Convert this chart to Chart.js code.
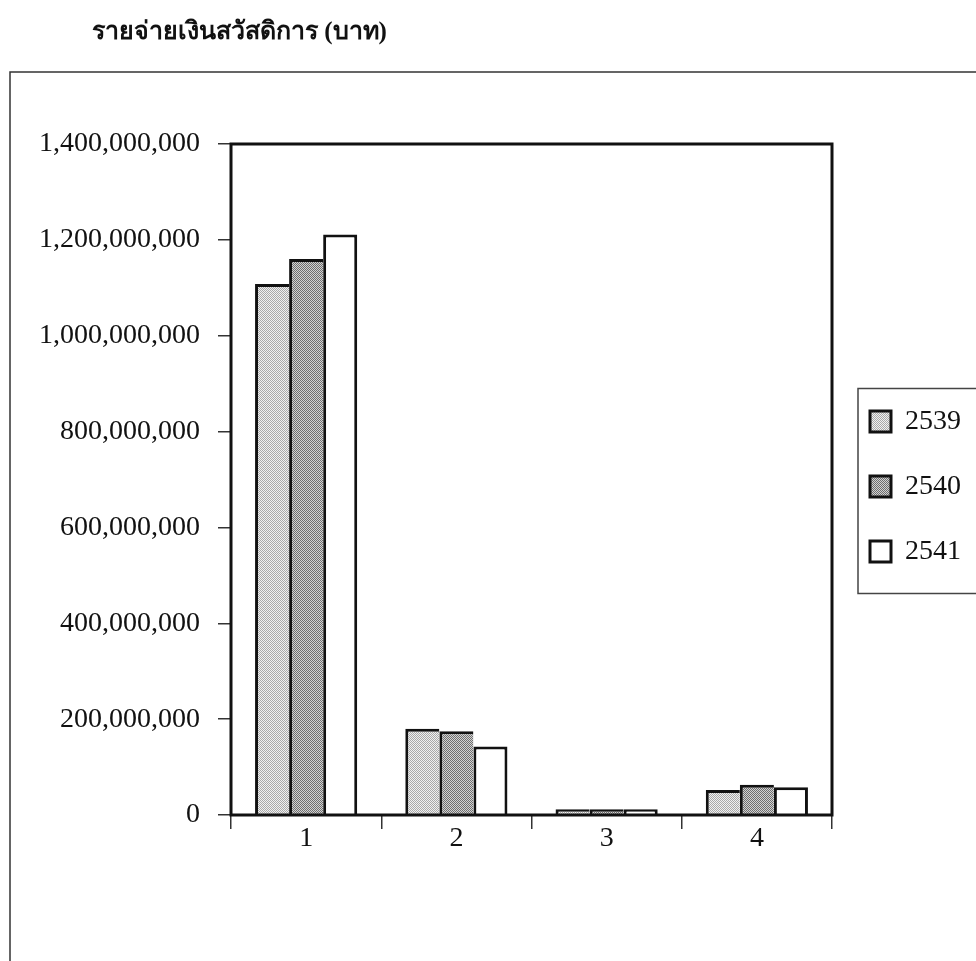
<!DOCTYPE html>
<html>
<head>
<meta charset="utf-8">
<script src="https://cdn.jsdelivr.net/npm/chart.js@4.4.1/dist/chart.umd.min.js"></script>
<style>
  html, body { margin: 0; padding: 0; background: #fff; overflow: hidden; }
  #wrap { position: relative; width: 976px; height: 961px; }
</style>
</head>
<body>
<div id="wrap"><canvas id="c"></canvas></div>
<script>
// Welfare expenditure (baht) by item, fiscal years 2539-2541
const chartTitle = 'รายจ่ายเงินสวัสดิการ (บาท)';
const categories = ['1', '2', '3', '4'];
const years = ['2539', '2540', '2541'];
const values2539 = [1108000000, 180000000, 12000000, 52000000];
const values2540 = [1160000000, 175000000, 12000000, 63000000];
const values2541 = [1211000000, 143000000, 12000000, 58000000];
const yTicks = [0, 200000000, 400000000, 600000000, 800000000, 1000000000, 1200000000, 1400000000];

const canvas = document.getElementById('c');
const ctx = canvas.getContext('2d');

// small stipple tiles used as bar fills
function stipple(light, dark) {
  const t = document.createElement('canvas');
  t.width = 2; t.height = 2;
  const g = t.getContext('2d');
  g.fillStyle = light; g.fillRect(0, 0, 2, 2);
  g.fillStyle = dark; g.fillRect(0, 0, 1, 1); g.fillRect(1, 1, 1, 1);
  return ctx.createPattern(t, 'repeat');
}
const fillLight = stipple('#f0f0f0', '#a8a8a8');
const fillDark = stipple('#d2d2d2', '#6e6e6e');

const serif = '"Liberation Serif", "Times New Roman", serif';

// page frame, title, plot box and legend frame
const framePlugin = {
  id: 'frame',
  afterLayout(chart) {
    const lg = chart.legend, ca = chart.chartArea;
    const pad = lg.options.labels.padding;
    const mid = (ca.top + ca.bottom) / 2 + 7;
    lg.left = ca.right + 38 - pad;
    lg.right = lg.left + lg.width;
    lg.top = mid - 250;
    lg.bottom = mid + 250;
    lg.height = 500;
  },
  beforeDraw(chart) {
    const c = chart.ctx, ca = chart.chartArea;
    c.save();
    c.fillStyle = '#fff';
    c.fillRect(0, 0, chart.width, chart.height);
    c.strokeStyle = '#333';
    c.lineWidth = 1.5;
    c.beginPath();
    c.moveTo(10, chart.height + 2);
    c.lineTo(10, ca.top - 72);
    c.lineTo(chart.width + 2, ca.top - 72);
    c.stroke();
    c.fillStyle = '#111';
    c.font = 'bold 25px ' + serif;
    c.textBaseline = 'middle';
    c.textAlign = 'left';
    c.fillText(chartTitle, 92, ca.top - 111);
    c.restore();
  },
  afterDatasetsDraw(chart) {
    const c = chart.ctx, ca = chart.chartArea;
    c.save();
    c.strokeStyle = '#111';
    c.lineWidth = 3;
    c.strokeRect(ca.left, ca.top, ca.right - ca.left, ca.bottom - ca.top);
    c.restore();
  },
  afterDraw(chart) {
    const c = chart.ctx, lg = chart.legend;
    const hb = lg.legendHitBoxes;
    if (!hb || !hb.length) return;
    const first = hb[0], last = hb[hb.length - 1];
    c.save();
    c.strokeStyle = '#444';
    c.lineWidth = 1.5;
    const x = first.left - 12, y = first.top - 19;
    c.strokeRect(x, y, chart.width + 10 - x, last.top + last.height + 28 - y);
    c.restore();
  }
};

new Chart(canvas, {
  type: 'bar',
  data: {
    labels: categories,
    datasets: [
      { label: years[0], data: values2539, backgroundColor: fillLight, borderColor: '#111',
        borderWidth: { top: 3, left: 3, right: 0, bottom: 0 }, borderSkipped: false },
      { label: years[1], data: values2540, backgroundColor: fillDark, borderColor: '#111',
        borderWidth: { top: 3, left: 3, right: 0, bottom: 0 }, borderSkipped: false },
      { label: years[2], data: values2541, backgroundColor: '#ffffff', borderColor: '#111',
        borderWidth: { top: 3, left: 3, right: 3, bottom: 0 }, borderSkipped: false }
    ]
  },
  options: {
    responsive: true,
    maintainAspectRatio: false,
    animation: false,
    layout: { padding: { left: 0, right: 144, top: 144, bottom: 86 } },
    categoryPercentage: 0.68,
    barPercentage: 1.0,
    plugins: {
      title: { display: false },
      tooltip: { enabled: false },
      legend: {
        display: true,
        position: 'chartArea',
        labels: {
          boxWidth: 21,
          boxHeight: 21,
          padding: 37,
          color: '#111',
          font: { family: serif, size: 28 },
          generateLabels(chart) {
            const items = Chart.defaults.plugins.legend.labels.generateLabels(chart);
            items.forEach(i => { i.lineWidth = 3; i.strokeStyle = '#111'; });
            return items;
          }
        }
      }
    },
    scales: {
      x: {
        offset: true,
        border: { display: false },
        grid: { drawOnChartArea: false, drawTicks: true, tickLength: 14, color: '#333', lineWidth: 1.5 },
        ticks: { color: '#111', font: { family: serif, size: 28 }, padding: -7, maxRotation: 0 },
        afterFit(s) { s.height = 60; }
      },
      y: {
        min: 0,
        max: 1400000000,
        border: { display: false },
        grid: { drawOnChartArea: false, drawTicks: true, tickLength: 13, color: '#333', lineWidth: 1.5 },
        ticks: {
          color: '#111',
          font: { family: serif, size: 28 },
          padding: 18,
          callback: v => Number(v).toLocaleString('en-US')
        },
        afterBuildTicks(s) { s.ticks = yTicks.map(v => ({ value: v })); },
        afterFit(s) { s.width = 231; }
      }
    }
  },
  plugins: [framePlugin]
});
</script>
</body>
</html>
